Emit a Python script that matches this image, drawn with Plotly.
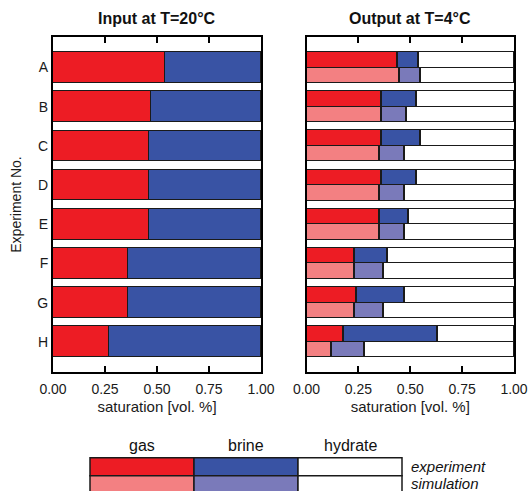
import plotly.graph_objects as go

# ---------------- data ----------------
experiments = ["A", "B", "C", "D", "E", "F", "G", "H"]
x_ticks = [0.0, 0.25, 0.5, 0.75, 1.0]

input_gas = [0.54, 0.47, 0.46, 0.46, 0.46, 0.36, 0.36, 0.27]
input_brine = [0.46, 0.53, 0.54, 0.54, 0.54, 0.64, 0.64, 0.73]

exp_gas = [0.44, 0.36, 0.36, 0.36, 0.35, 0.23, 0.24, 0.18]
exp_brine = [0.10, 0.17, 0.19, 0.17, 0.14, 0.16, 0.23, 0.45]
exp_hydrate = [0.46, 0.47, 0.45, 0.47, 0.51, 0.61, 0.53, 0.37]

sim_gas = [0.45, 0.36, 0.35, 0.35, 0.35, 0.23, 0.23, 0.12]
sim_brine = [0.10, 0.12, 0.12, 0.12, 0.12, 0.14, 0.14, 0.16]
sim_hydrate = [0.45, 0.52, 0.53, 0.53, 0.53, 0.63, 0.63, 0.72]

legend_phases = ["gas", "brine", "hydrate"]
legend_rows = ["experiment", "simulation"]

# ---------------- style ----------------
RED = "#ED1C24"
BLUE = "#3953A4"
PINK = "#F38082"
LAV = "#7A7ABA"
WHITE = "#FFFFFF"
EDGE = "#1a1a1a"
FONT = "Liberation Sans, Arial, sans-serif"
TXT = "#1a1a1a"

W, H = 530, 491
ML, MR, MT, MB = 53, 16, 37, 119
PW = W - ML - MR
PH = H - MT - MB


def px_x(px):
    return (px - ML) / PW


def px_y(py):
    return (H - MB - py) / PH


rows = list(range(len(experiments)))
exp_rows = [r - 0.197 for r in rows]
sim_rows = [r + 0.197 for r in rows]

fig = go.Figure()


def add_bar(vals, ypos, color, width, xa, ya):
    fig.add_trace(go.Bar(
        x=vals, y=ypos, orientation="h", width=width,
        marker=dict(color=color, line=dict(color=EDGE, width=1.5)),
        xaxis=xa, yaxis=ya, showlegend=False, hoverinfo="x",
    ))


# left panel: input
add_bar(input_gas, rows, RED, 0.785, "x", "y")
add_bar(input_brine, rows, BLUE, 0.785, "x", "y")

# right panel: output (experiment + simulation)
add_bar(exp_gas, exp_rows, RED, 0.394, "x2", "y2")
add_bar(exp_brine, exp_rows, BLUE, 0.394, "x2", "y2")
add_bar(exp_hydrate, exp_rows, WHITE, 0.394, "x2", "y2")
add_bar(sim_gas, sim_rows, PINK, 0.394, "x2", "y2")
add_bar(sim_brine, sim_rows, LAV, 0.394, "x2", "y2")
add_bar(sim_hydrate, sim_rows, WHITE, 0.394, "x2", "y2")

xaxis_common = dict(
    range=[0, 1], tickvals=x_ticks, tickformat=".2f",
    ticks="inside", ticklen=6, tickwidth=2, tickcolor="black",
    showline=True, linewidth=2, linecolor="black", mirror="ticks",
    showgrid=False, zeroline=False, automargin=False, ticklabelstandoff=3,
    tickfont=dict(family=FONT, size=14, color=TXT),
    title=dict(text="saturation [vol. %]", font=dict(family=FONT, size=15, color=TXT), standoff=6),
)
yaxis_common = dict(
    range=[7.77, -0.78], tickvals=rows, ticktext=experiments,
    ticks="", showline=True, linewidth=2, linecolor="black", mirror=True,
    showgrid=False, zeroline=False, automargin=False,
    tickfont=dict(family=FONT, size=14, color=TXT),
)

left_dom = [0, px_x(261)]
right_dom = [px_x(306.5), 1]

fig.update_layout(
    width=W, height=H, autosize=False,
    margin=dict(l=ML, r=MR, t=MT, b=MB, autoexpand=False),
    paper_bgcolor="white", plot_bgcolor="white",
    barmode="stack", bargap=0,
    font=dict(family=FONT, size=14, color=TXT),
    xaxis=dict(domain=left_dom, anchor="y", **xaxis_common),
    yaxis=dict(domain=[0, 1], anchor="x", showticklabels=True,
               title=dict(text="Experiment No.", font=dict(family=FONT, size=14, color=TXT), standoff=12),
               **yaxis_common),
    xaxis2=dict(domain=right_dom, anchor="y2", **xaxis_common),
    yaxis2=dict(domain=[0, 1], anchor="x2", showticklabels=False, **yaxis_common),
)

# panel titles
fig.add_annotation(text="<b>Input at T=20°C</b>", x=sum(left_dom) / 2, y=px_y(19),
                   xref="paper", yref="paper", showarrow=False, xanchor="center",
                   font=dict(family=FONT, size=16, color="#111"), yanchor="middle")
fig.add_annotation(text="<b>Output at T=4°C</b>", x=sum(right_dom) / 2, y=px_y(19),
                   xref="paper", yref="paper", showarrow=False, xanchor="center",
                   font=dict(family=FONT, size=16, color="#111"), yanchor="middle")

# custom legend block
legend_colors = [[RED, BLUE, WHITE], [PINK, LAV, WHITE]]
box_x = [90, 194, 298, 402]
box_y = [457.7, 475.7, 493.7]
for r in range(2):
    for c in range(3):
        fig.add_shape(type="rect", xref="paper", yref="paper",
                      x0=px_x(box_x[c]), x1=px_x(box_x[c + 1]),
                      y0=px_y(box_y[r + 1]), y1=px_y(box_y[r]),
                      fillcolor=legend_colors[r][c], line=dict(color=EDGE, width=1.5))
for c, name in enumerate(legend_phases):
    fig.add_annotation(text=name, x=px_x((box_x[c] + box_x[c + 1]) / 2), y=px_y(445),
                       xref="paper", yref="paper", showarrow=False, xanchor="center", yanchor="middle",
                       font=dict(family=FONT, size=16, color="#111"))
for r, name in enumerate(legend_rows):
    fig.add_annotation(text=f"<i>{name}</i>", x=px_x(409), y=px_y([466, 483.5][r]),
                       xref="paper", yref="paper", showarrow=False, xanchor="left", yanchor="middle",
                       font=dict(family=FONT, size=15, color="#111"))

fig.write_html("out.html")
